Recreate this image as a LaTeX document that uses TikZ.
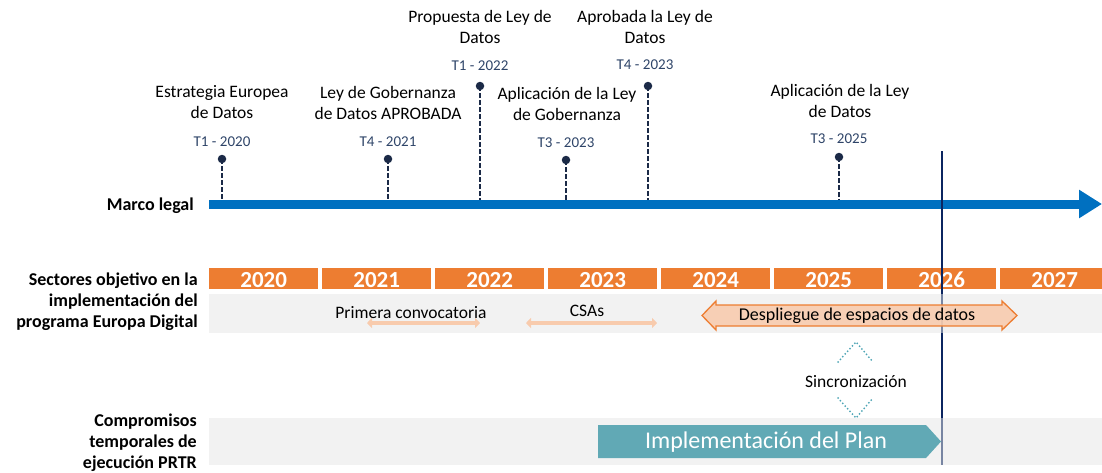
\documentclass[tikz,border=0pt]{standalone}
\usepackage{fontspec}
\setmainfont{Carlito}
\usetikzlibrary{arrows.meta}
\definecolor{orangeY}{HTML}{ED7D31}
\definecolor{peach}{HTML}{F8CBAD}
\definecolor{tealbox}{HTML}{61A9B5}
\definecolor{tealdot}{HTML}{4FA5B5}
\definecolor{navy}{HTML}{1B2A47}
\definecolor{slate}{HTML}{2E4468}
\definecolor{bluearrow}{HTML}{0070C0}
\definecolor{vlinecol}{HTML}{0B2560}
\definecolor{band}{HTML}{E5E5E5}
\begin{document}
\begin{tikzpicture}[x=1pt,y=-1pt,
  title/.style={font=\fontsize{17.5}{21}\selectfont, align=center, inner sep=0pt},
  datelbl/.style={font=\fontsize{15}{18}\selectfont, text=slate, inner sep=0pt},
  dotnode/.style={circle, fill=navy, inner sep=0pt, minimum size=8.5pt},
  stemline/.style={draw=navy, line width=2pt, dash pattern=on 4.5pt off 2.5pt},
  yearbox/.style={fill=orangeY, minimum width=109pt, minimum height=21pt, inner sep=0pt, anchor=north west, text=white, font=\fontsize{23}{23}\selectfont\bfseries, text height=18.5pt, text depth=0pt},
  rowlbl/.style={font=\fontsize{18}{21}\selectfont\bfseries, align=right, inner sep=0pt, anchor=east},
  bandfill/.style={fill=band, fill opacity=0.5},
  rangearrow/.style={draw=peach, line width=4pt, {Triangle[width=10pt,length=5pt]}-{Triangle[width=10pt,length=5pt]}},
  syncdots/.style={draw=tealdot, line width=2pt, line cap=round, dash pattern=on 0pt off 3.6pt},
  plain/.style={font=\fontsize{17.5}{21}\selectfont, inner sep=0pt},
]
\useasboundingbox (0,0) rectangle (1102,472);

% year boxes
\node[yearbox] (y2020) at (209,268) {2020};
\node[yearbox] (y2021) at (322,268) {2021};
\node[yearbox] (y2022) at (435,268) {2022};
\node[yearbox] (y2023) at (548,268) {2023};
\node[yearbox] (y2024) at (661,268) {2024};
\node[yearbox] (y2025) at (774,268) {2025};
\node[yearbox] (y2026) at (887,268) {2026};
\node[yearbox] (y2027) at (1000,268) {2027};

% Marco legal axis
\coordinate (axisL) at (209,204);
\coordinate (axisR) at (1102,204);
\draw[bluearrow, line width=9pt, -{Triangle[width=27pt,length=23pt]}] (axisL) -- (axisR);

% milestones
\node[title] (t1) at (222,102.5) {Estrategia Europea\\de Datos};
\node[datelbl] (d1) at (222,142) {T1 - 2020};
\node[dotnode] (m1) at (222,159) {};
\coordinate (s1) at (222,200);
\draw[stemline] (m1.center) -- (s1);

\node[title] (t2) at (388,102.5) {Ley de Gobernanza\\de Datos APROBADA};
\node[datelbl] (d2) at (388,142) {T4 - 2021};
\node[dotnode] (m2) at (388,159) {};
\coordinate (s2) at (388,200);
\draw[stemline] (m2.center) -- (s2);

\node[title] (t3) at (480,26.5) {Propuesta de Ley de\\Datos};
\node[datelbl] (d3) at (480,66) {T1 - 2022};
\node[dotnode] (m3) at (480,86) {};
\coordinate (s3) at (480,200);
\draw[stemline] (m3.center) -- (s3);

\node[title] (t4) at (567,103.5) {Aplicación de la Ley\\de Gobernanza};
\node[datelbl] (d4) at (566,143) {T3 - 2023};
\node[dotnode] (m4) at (566,160) {};
\coordinate (s4) at (566,200);
\draw[stemline] (m4.center) -- (s4);

\node[title] (t5) at (645,26.5) {Aprobada la Ley de\\Datos};
\node[datelbl] (d5) at (645,65) {T4 - 2023};
\node[dotnode] (m5) at (648,86) {};
\coordinate (s5) at (648,200);
\draw[stemline] (m5.center) -- (s5);

\node[title] (t6) at (840,100.5) {Aplicación de la Ley\\de Datos};
\node[datelbl] (d6) at (839,139) {T3 - 2025};
\node[dotnode] (m6) at (839,157) {};
\coordinate (s6) at (839,200);
\draw[stemline] (m6.center) -- (s6);

% row labels
\node[rowlbl] (rMarco) at (194,206) {Marco legal};
\node[rowlbl] (rSect) at (198,302) {Sectores objetivo en la\\implementación del\\programa Europa Digital};
\node[rowlbl] (rComp) at (197,442.5) {Compromisos\\temporales de\\ejecución PRTR};

% vertical "today" line
\coordinate (vTop) at (942,151);
\coordinate (vBot) at (942,465);
\draw[vlinecol, line width=2pt] (vTop) -- (vBot);

% grey bands
\fill[bandfill] (209,294) rectangle (1102,333);
\fill[bandfill] (209,418) rectangle (1102,465);

% Europa Digital row
\node[plain] (prim) at (411,313) {Primera convocatoria};
\coordinate (pA) at (367,323);
\coordinate (pB) at (480,323);
\draw[rangearrow] (pA) -- (pB);

\node[plain] (csa) at (587,311) {CSAs};
\coordinate (cA) at (526,323);
\coordinate (cB) at (657,323);
\draw[rangearrow] (cA) -- (cB);

\filldraw[fill=peach, fill opacity=0.88, draw=orangeY, line width=1.3pt] (702,315.5) -- (716,301) -- (716,305) -- (1002,305) -- (1002,301) -- (1017,315.5) -- (1002,330) -- (1002,326) -- (716,326) -- (716,330) -- cycle;
\node[plain, font=\fontsize{18}{21}\selectfont] (despl) at (857,316) {Despliegue de espacios de datos};

% synchronisation
\node[plain] (sinc) at (856,382) {Sincronización};
\draw[syncdots] (838,362) -- (856,342) -- (873,362);
\draw[syncdots] (838,398) -- (856,418) -- (873,398);

% PRTR row
\fill[tealbox] (598,425) -- (926,425) -- (941,441.5) -- (926,458) -- (598,458) -- cycle;
\node[font=\fontsize{24}{28}\selectfont, text=white, inner sep=0pt] (impl) at (766,442) {Implementación del Plan};
\end{tikzpicture}
\end{document}
